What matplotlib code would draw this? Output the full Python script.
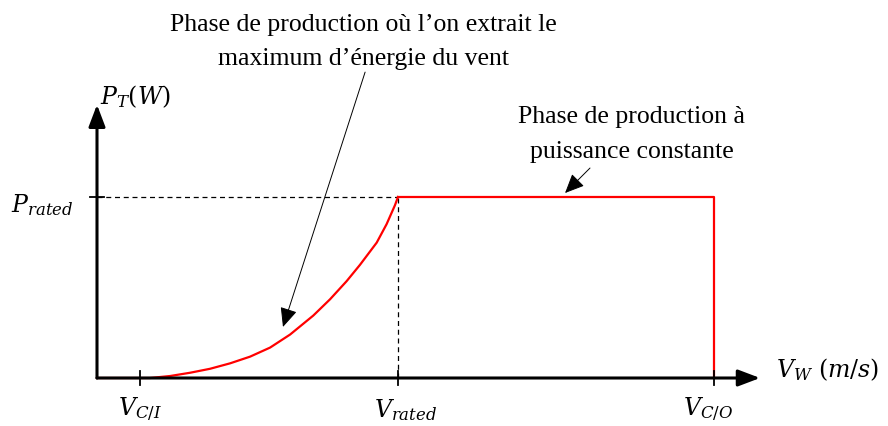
import matplotlib
matplotlib.use("Agg")
import matplotlib.pyplot as plt

# ---- data (abstract wind-speed / normalised power units) ----
v_curve = [0.0, 2.47, 3.40, 4.33, 5.26, 6.19, 7.12, 8.05, 8.98, 10.06, 10.84,
           11.61, 12.23, 13.01, 13.47, 13.86, 14.0]
p_curve = [0.0, 0.0, 0.011, 0.029, 0.051, 0.081, 0.118, 0.168, 0.240, 0.345, 0.435,
           0.535, 0.625, 0.748, 0.850, 0.955, 1.0]
v_ci = 2.0
v_rated = 14.0
v_co = 28.7
p_rated = 1.0
tick_labels_x = [r"$V_{C/I}$", r"$V_{rated}$", r"$V_{C/O}$"]
tick_label_y = r"$P_{rated}$"
xlabel = r"$V_W\ (m/s)$"
ylabel = r"$P_T(W)$"
note1 = ["Phase de production où l’on extrait le", "maximum d’énergie du vent"]
note2 = ["Phase de production à", "puissance constante"]

plt.rcParams["mathtext.fontset"] = "dejavuserif"
serif = ["Liberation Serif", "DejaVu Serif"]

fig = plt.figure(figsize=(8.88, 4.26), dpi=100)
ax = fig.add_axes([0, 0, 1, 1])
ax.set_xlim(-97 / 21.5, (888 - 97) / 21.5)
ax.set_ylim((378 - 426) / 181, 378 / 181)
ax.axis("off")

axis_arrow = dict(arrowstyle="-|>,head_length=0.95,head_width=0.36", lw=2.2,
                  color="black", shrinkA=0, shrinkB=0, mutation_scale=14)
ax.annotate("", xy=(30.84, 0), xytext=(0, 0), arrowprops=axis_arrow)
ax.annotate("", xy=(0, 1.51), xytext=(0, 0), arrowprops=axis_arrow)

# dashed guides
ax.plot([0, v_rated], [p_rated, p_rated], ls=(0, (4, 3)), color="black", lw=0.9)
ax.plot([v_rated, v_rated], [0, p_rated], ls=(0, (4, 3)), color="black", lw=0.9)

# power curve
ax.plot(v_curve, p_curve, color="#ff0000", lw=1.6, solid_joinstyle="round")
ax.plot([v_rated, v_co, v_co], [p_rated, p_rated, 0], color="#ff0000", lw=1.6)

# ticks
tick_h = 7 / 181
for v in (v_ci, v_rated, v_co):
    ax.plot([v, v], [-tick_h, tick_h], color="black", lw=1.3)
ax.plot([-7 / 21.5, 7 / 21.5], [p_rated, p_rated], color="black", lw=1.3)

# tick labels
fs = 17
ax.text(v_ci, -0.177, tick_labels_x[0], ha="center", va="center", fontsize=fs)
ax.text(14.33, -0.177, tick_labels_x[1], ha="center", va="center", fontsize=fs)
ax.text(28.42, -0.177, tick_labels_x[2], ha="center", va="center", fontsize=fs)
ax.text(-2.56, 0.955, tick_label_y, ha="center", va="center", fontsize=fs)
ax.text(31.58, 0.044, xlabel, ha="left", va="center", fontsize=fs)
ax.text(0.14, 1.552, ylabel, ha="left", va="center", fontsize=fs)

# annotations
nfs = 18.5
ax.text(12.4, 1.917, note1[0], ha="center", va="baseline", fontsize=nfs, family=serif)
ax.text(12.4, 1.729, note1[1], ha="center", va="baseline", fontsize=nfs, family=serif)
ax.text(24.88, 1.409, note2[0], ha="center", va="baseline", fontsize=nfs, family=serif)
ax.text(24.88, 1.215, note2[1], ha="center", va="baseline", fontsize=nfs, family=serif)

note_arrow = dict(arrowstyle="-|>,head_length=0.85,head_width=0.38", lw=0.7,
                  color="black", shrinkA=0, shrinkB=0, mutation_scale=14)
ax.annotate("", xy=(8.65, 0.282), xytext=(12.47, 1.69), arrowprops=note_arrow)
ax.annotate("", xy=(21.77, 1.022), xytext=(22.93, 1.16), arrowprops=note_arrow)

fig.savefig("out.png", dpi=100, facecolor="white")
